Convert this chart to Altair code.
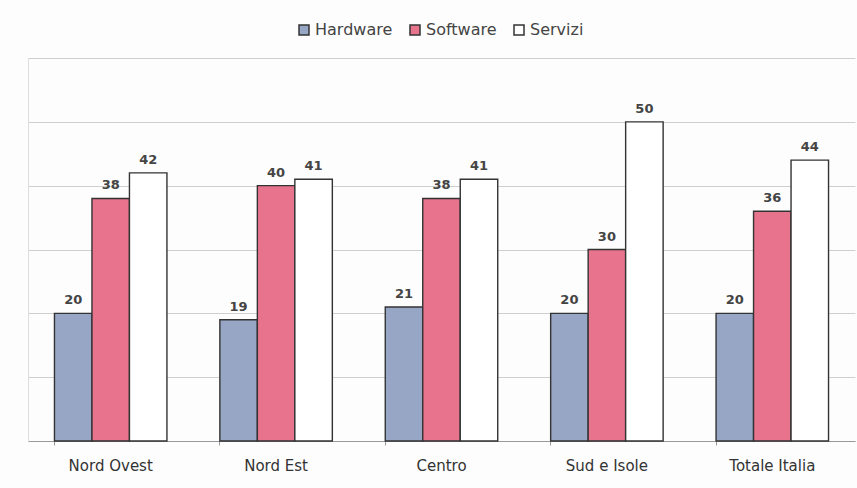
import altair as alt
import pandas as pd

# Survey shares (%) by area and spending category
areas = ["Nord Ovest", "Nord Est", "Centro", "Sud e Isole", "Totale Italia"]
series = ["Hardware", "Software", "Servizi"]
hardware = [20, 19, 21, 20, 20]
software = [38, 40, 38, 30, 36]
servizi = [42, 41, 41, 50, 44]

rows = []
for i, area in enumerate(areas):
    for name, vals in zip(series, [hardware, software, servizi]):
        rows.append({"area": area, "serie": name, "valore": vals[i]})
df = pd.DataFrame(rows)

colors = ["#97a6c4", "#e8738c", "#ffffff"]
font = "DejaVu Sans"

x = alt.X(
    "area:N",
    sort=areas,
    title=None,
    scale=alt.Scale(paddingInner=0.32, paddingOuter=0.16),
    axis=alt.Axis(
        labelAngle=0,
        labelFont=font,
        labelFontSize=15,
        labelColor="#333333",
        labelPadding=13,
        domainColor="#999999",
        tickColor="#999999",
        tickSize=4,
        bandPosition=0,
        grid=False,
    ),
)
xoff = alt.XOffset("serie:N", sort=series, scale=alt.Scale(paddingInner=0, paddingOuter=0))
y = alt.Y(
    "valore:Q",
    title=None,
    scale=alt.Scale(domain=[0, 60], nice=False),
    axis=alt.Axis(
        values=[0, 10, 20, 30, 40, 50, 60],
        labels=False,
        ticks=False,
        domain=True,
        domainColor="#dddddd",
        gridColor="#cfcfcf",
        gridWidth=1,
    ),
)

bars = alt.Chart(df).mark_bar(stroke="#333333", strokeWidth=1.4).encode(
    x=x,
    xOffset=xoff,
    y=y,
    fill=alt.Fill(
        "serie:N",
        sort=series,
        scale=alt.Scale(domain=series, range=colors),
        legend=alt.Legend(
            title=None,
            orient="none",
            direction="horizontal",
            legendX=268,
            legendY=-36,
            symbolType="square",
            symbolSize=100,
            symbolStrokeColor="#333333",
            symbolStrokeWidth=1.5,
            labelFont=font,
            labelFontSize=16,
            labelColor="#444444",
            labelOffset=3,
            columnPadding=14,
        ),
    ),
)

labels = alt.Chart(df).mark_text(
    baseline="bottom", dy=-6, font=font, fontSize=13, fontWeight="bold", color="#444444"
).encode(
    x=alt.X("area:N", sort=areas),
    xOffset=alt.XOffset("serie:N", sort=series),
    y="valore:Q",
    text="valore:Q",
)

chart = (
    alt.layer(bars, labels)
    .properties(
        width=827,
        height=383,
        autosize=alt.AutoSizeParams(type="none"),
        padding={"left": 28, "top": 58, "right": 2, "bottom": 47},
        background="#fdfdfd",
    )
    .configure_view(stroke=None)
)

chart.save("out.html", embed_options={"renderer": "svg", "actions": False})
